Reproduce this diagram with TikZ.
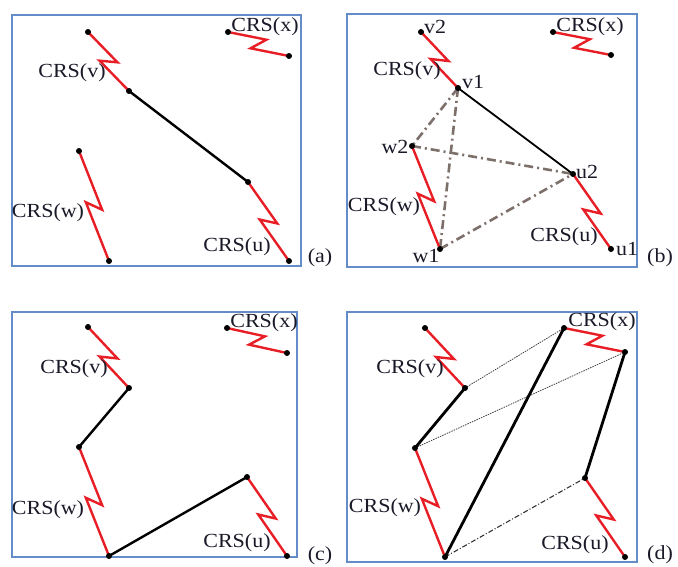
\documentclass[tikz,border=0pt]{standalone}
\usepackage{fontspec}
\setmainfont{Liberation Serif}[FakeStretch=1.1]
\usepackage{xcolor}
\usetikzlibrary{calc}

\definecolor{framecol}{RGB}{100,140,200}
\definecolor{boltred}{RGB}{232,30,38}
\definecolor{pathgray}{RGB}{125,112,106}
\definecolor{txtcol}{RGB}{25,25,40}

\tikzset{
  frame/.style={draw=framecol,line width=1.4pt},
  bolt/.style={draw=boltred,line width=2.4pt,line join=miter},
  link/.style={draw=black,line width=2.4pt},
  thinlink/.style={draw=black,line width=1.8pt},
  cand/.style={draw=pathgray,line width=2.6pt,dash pattern=on 9pt off 4pt on 2pt off 4pt},
  spare/.style={draw=black!75,line width=0.8pt,dash pattern=on 1.5pt off 1pt},
  sparedot/.style={draw=black!80,line width=1.1pt,dash pattern=on 5pt off 2pt on 1pt off 2pt},
  lbl/.style={text=txtcol,font=\fontsize{20}{22}\selectfont,inner sep=0pt}
}
% zigzag link between two end points
\newcommand{\crsbolt}[2]{%
  \draw[bolt] (#1) -- ($(#1)!0.5!(#2)!9pt!50:(#2)$)
    -- ($(#1)!0.5!(#2)!9pt!-130:(#2)$) -- (#2);}

\begin{document}
\begin{tikzpicture}[x=1pt,y=-1pt]
  \useasboundingbox (0,0) rectangle (678,566);

  % (a)
  \draw[frame] (12,15) rectangle (301,266);
  \coordinate (av2) at (88,32);   \coordinate (av1) at (129,91);
  \coordinate (ax1) at (228,32);  \coordinate (ax2) at (289,56);
  \coordinate (aw2) at (79,151);  \coordinate (aw1) at (109,261);
  \coordinate (au2) at (248,182); \coordinate (au1) at (289,261);
  \draw[link] (av1) -- (au2);
  \crsbolt{av2}{av1} \crsbolt{ax1}{ax2} \crsbolt{aw2}{aw1} \crsbolt{au2}{au1}
  \foreach \p in {av2,av1,ax1,ax2,aw2,aw1,au2,au1} \fill (\p) circle (3pt);
  \node[lbl] (alv) at (72,73) {CRS(v)};
  \node[lbl] (alx) at (265,27) {CRS(x)};
  \node[lbl] (alw) at (48,213) {CRS(w)};
  \node[lbl] (alu) at (237,247) {CRS(u)};
  \node[lbl] (acap) at (320,258) {(a)};

  % (b)
  \draw[frame] (347,14) rectangle (637,267);
  \coordinate (bv2) at (421,32);  \coordinate (bv1) at (458,88);
  \coordinate (bx1) at (553,32);  \coordinate (bx2) at (611,55);
  \coordinate (bw2) at (412,146); \coordinate (bw1) at (440,249);
  \coordinate (bu2) at (573,174); \coordinate (bu1) at (611,249);
  \draw[cand] (bv1) -- (bw2);
  \draw[cand] (bv1) -- (bw1);
  \draw[cand] (bw2) -- (bu2);
  \draw[cand] (bw1) -- (bu2);
  \draw[thinlink] (bv1) -- (bu2);
  \crsbolt{bv2}{bv1} \crsbolt{bx1}{bx2} \crsbolt{bw2}{bw1} \crsbolt{bu2}{bu1}
  \foreach \p in {bv2,bv1,bx1,bx2,bw2,bw1,bu2,bu1} \fill (\p) circle (3pt);
  \node[lbl] (blv2) at (435,27) {v2};
  \node[lbl] (blv1) at (473,82) {v1};
  \node[lbl] (blw2) at (395,147) {w2};
  \node[lbl] (blu2) at (587,172) {u2};
  \node[lbl] (blu1) at (627,249) {u1};
  \node[lbl] (blw1) at (426,256) {w1};
  \node[lbl] (blv) at (407,71) {CRS(v)};
  \node[lbl] (blx) at (590,27) {CRS(x)};
  \node[lbl] (blw) at (384,207) {CRS(w)};
  \node[lbl] (blu) at (564,237) {CRS(u)};
  \node[lbl] (bcap) at (660,258) {(b)};

  % (c)
  \draw[frame] (12,312) rectangle (297,557);
  \coordinate (cv2) at (88,327);  \coordinate (cv1) at (129,388);
  \coordinate (cx1) at (227,328); \coordinate (cx2) at (287,353);
  \coordinate (cw2) at (79,447);  \coordinate (cw1) at (109,556);
  \coordinate (cu2) at (247,477); \coordinate (cu1) at (287,556);
  \draw[link] (cv1) -- (cw2);
  \draw[link] (cw1) -- (cu2);
  \crsbolt{cv2}{cv1} \crsbolt{cx1}{cx2} \crsbolt{cw2}{cw1} \crsbolt{cu2}{cu1}
  \foreach \p in {cv2,cv1,cx1,cx2,cw2,cw1,cu2,cu1} \fill (\p) circle (3pt);
  \node[lbl] (clv) at (74,369) {CRS(v)};
  \node[lbl] (clx) at (264,323) {CRS(x)};
  \node[lbl] (clw) at (48,510) {CRS(w)};
  \node[lbl] (clu) at (237,543) {CRS(u)};
  \node[lbl] (ccap) at (320,556) {(c)};

  % (d)
  \draw[frame] (347,312) rectangle (637,562);
  \coordinate (dv2) at (425,328); \coordinate (dv1) at (465,388);
  \coordinate (dx1) at (564,328); \coordinate (dx2) at (625,352);
  \coordinate (dw2) at (415,448); \coordinate (dw1) at (445,557);
  \coordinate (du2) at (585,478); \coordinate (du1) at (625,557);
  \draw[spare] (dv1) -- (dx1);
  \draw[spare] (dw2) -- (dx2);
  \draw[sparedot] (dw1) -- (du2);
  \draw[link,line width=2.8pt] (dv1) -- (dw2);
  \draw[link,line width=2.8pt] (dw1) -- (dx1);
  \draw[link,line width=2.8pt] (dx2) -- (du2);
  \crsbolt{dv2}{dv1} \crsbolt{dx1}{dx2} \crsbolt{dw2}{dw1} \crsbolt{du2}{du1}
  \foreach \p in {dv2,dv1,dx1,dx2,dw2,dw1,du2,du1} \fill (\p) circle (3pt);
  \node[lbl] (dlv) at (410,369) {CRS(v)};
  \node[lbl] (dlx) at (602,322) {CRS(x)};
  \node[lbl] (dlw) at (385,508) {CRS(w)};
  \node[lbl] (dlu) at (575,545) {CRS(u)};
  \node[lbl] (dcap) at (660,555) {(d)};
\end{tikzpicture}
\end{document}
